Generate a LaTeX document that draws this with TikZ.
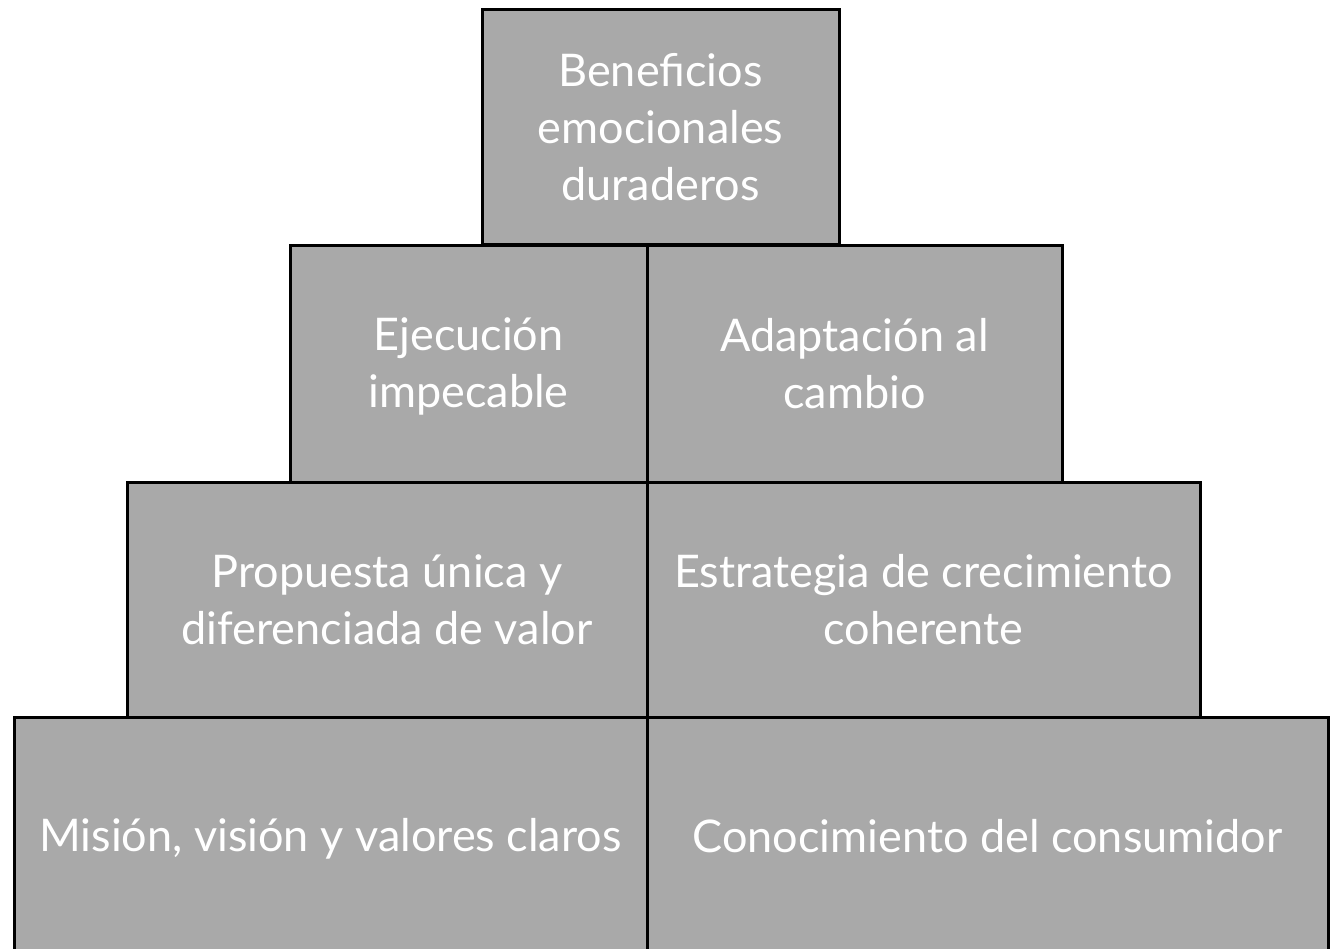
\documentclass[tikz,border=0pt]{standalone}
\usepackage{fontspec}
\setmainfont{Lato}
\definecolor{boxgray}{RGB}{169,169,169}
\newcommand{\ls}{\vrule width 0pt height 0.86em depth 0.14em\relax}
\tikzset{
  box/.style={draw=black, fill=boxgray, line width=3pt, text=white, align=center,
    font=\fontsize{45}{57}\selectfont, inner sep=0pt},
}
\begin{document}
\begin{tikzpicture}[x=1pt,y=-1pt]
\useasboundingbox (0,0) rectangle (1330,949);
\fill[white] (0,0) rectangle (1330,949);
\begin{scope}
\clip (0,0) rectangle (1330,949);
\node[box, minimum width=357pt, minimum height=235pt] (top) at (660.5,127.5) {\ls Beneficios\\\ls emocionales\\\ls duraderos};
\node[box, minimum width=357pt, minimum height=236pt] (ejec) at (468.5,364) {\ls Ejecución\\\ls impecable};
\node[box, minimum width=415pt, minimum height=236pt] (adap) at (854.5,364) {\ls Adaptación al\\\ls cambio};
\node[box, minimum width=520pt, minimum height=236pt] (prop) at (387,600) {\ls Propuesta única y\\\ls diferenciada de valor};
\node[box, minimum width=553pt, minimum height=236pt] (estr) at (923.5,600) {\ls Estrategia de crecimiento\\\ls coherente};
\node[box, minimum width=633pt, minimum height=238pt] (mis) at (330.5,836) {\ls Misión, visión y valores claros};
\node[box, minimum width=681pt, minimum height=238pt] (cono) at (987.5,836) {\ls Conocimiento del consumidor};
\end{scope}
\end{tikzpicture}
\end{document}
